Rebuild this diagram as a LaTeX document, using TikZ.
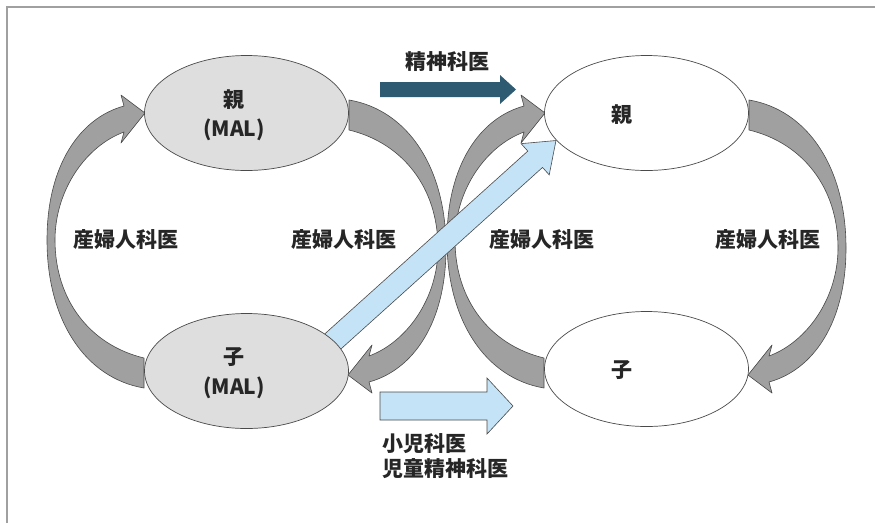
\documentclass[tikz,border=0pt]{standalone}
\usepackage{fontspec}
\setmainfont{Noto Sans CJK JP}
\usetikzlibrary{shapes.geometric}
\definecolor{grayarrow}{HTML}{A0A0A0}
\definecolor{ellgray}{HTML}{DEDEDE}
\definecolor{lightblue}{HTML}{C5E3F6}
\definecolor{darkblue}{HTML}{2E5A72}
\definecolor{edgecol}{HTML}{4A4A4A}
\definecolor{framecol}{HTML}{A0A0A0}
\newcommand{\curvedarrowpath}{(144,388) .. controls (85,378) and (47,320) .. (47,240) .. controls (47,165) and (80,118) .. (124,106) -- (121,95) -- (145,113) -- (121,143) -- (124,132) .. controls (86,146) and (55,190) .. (55,240) .. controls (55,300) and (90,345) .. (144,358) -- cycle}
\tikzset{
  curvearrow/.style={fill=grayarrow, draw=edgecol, line width=0.6pt, line join=round},
  ellbox/.style={ellipse, draw=edgecol, line width=0.7pt, minimum width=204pt, minimum height=115pt, inner sep=0pt},
  lbl/.style={font=\fontsize{21}{25}\selectfont\bfseries, inner sep=0pt, text=black!85},
  bluearrow/.style={fill=lightblue, draw=edgecol, line width=0.6pt, line join=miter},
}
\begin{document}
\begin{tikzpicture}[x=1pt,y=-1pt]
\useasboundingbox (0,0) rectangle (875,523);
\fill[white] (0,0) rectangle (875,523);
\draw[framecol, line width=1.5pt] (7,523) -- (7,7) -- (875,7);

% gray curved arrows
\path[curvearrow] \curvedarrowpath;
\begin{scope}[xshift=400pt]
  \path[curvearrow] \curvedarrowpath;
\end{scope}
\begin{scope}[rotate around={180:(246.5,244)}]
  \path[curvearrow] \curvedarrowpath;
\end{scope}
\begin{scope}[xshift=400pt, rotate around={180:(246.5,244)}]
  \path[curvearrow] \curvedarrowpath;
\end{scope}

% diagonal light blue arrow
\begin{scope}[shift={(310,362)}, rotate=42]
  \path[bluearrow] (0,-11) -- (303,-11) -- (303,-21) -- (331,0) -- (303,21) -- (303,11) -- (0,11) -- cycle;
\end{scope}

% ellipses
\node[ellbox, fill=ellgray] (lt) at (246.5,113) {};
\node[ellbox, fill=ellgray] (lb) at (246.5,371) {};
\node[ellbox, fill=white] (rt) at (646.5,113) {};
\node[ellbox, fill=white] (rb) at (646.5,369) {};

% texts in ellipses
\node[lbl] (t1) at (234,100) {親};
\node[lbl] (t2) at (234,130) {(MAL)};
\node[lbl] (t3) at (234,357) {子};
\node[lbl] (t4) at (234,388) {(MAL)};
\node[lbl] (t5) at (622,115) {親};
\node[lbl] (t6) at (622,370) {子};

% side labels
\node[lbl] (s1) at (126,240) {産婦人科医};
\node[lbl] (s2) at (344,240) {産婦人科医};
\node[lbl] (s3) at (542,240) {産婦人科医};
\node[lbl] (s4) at (768,240) {産婦人科医};

% dark blue arrow
\fill[darkblue] (380,82) -- (500,82) -- (500,75) -- (516,89.5) -- (500,104) -- (500,97) -- (380,97) -- cycle;
\node[lbl] (p1) at (447,62) {精神科医};

% light blue horizontal arrow
\path[bluearrow] (380,392) -- (487,392) -- (487,378) -- (513,406) -- (487,434) -- (487,420) -- (380,420) -- cycle;
\node[lbl, anchor=west] (c1) at (382,444) {小児科医};
\node[lbl, anchor=west] (c2) at (382,469) {児童精神科医};
\end{tikzpicture}
\end{document}
